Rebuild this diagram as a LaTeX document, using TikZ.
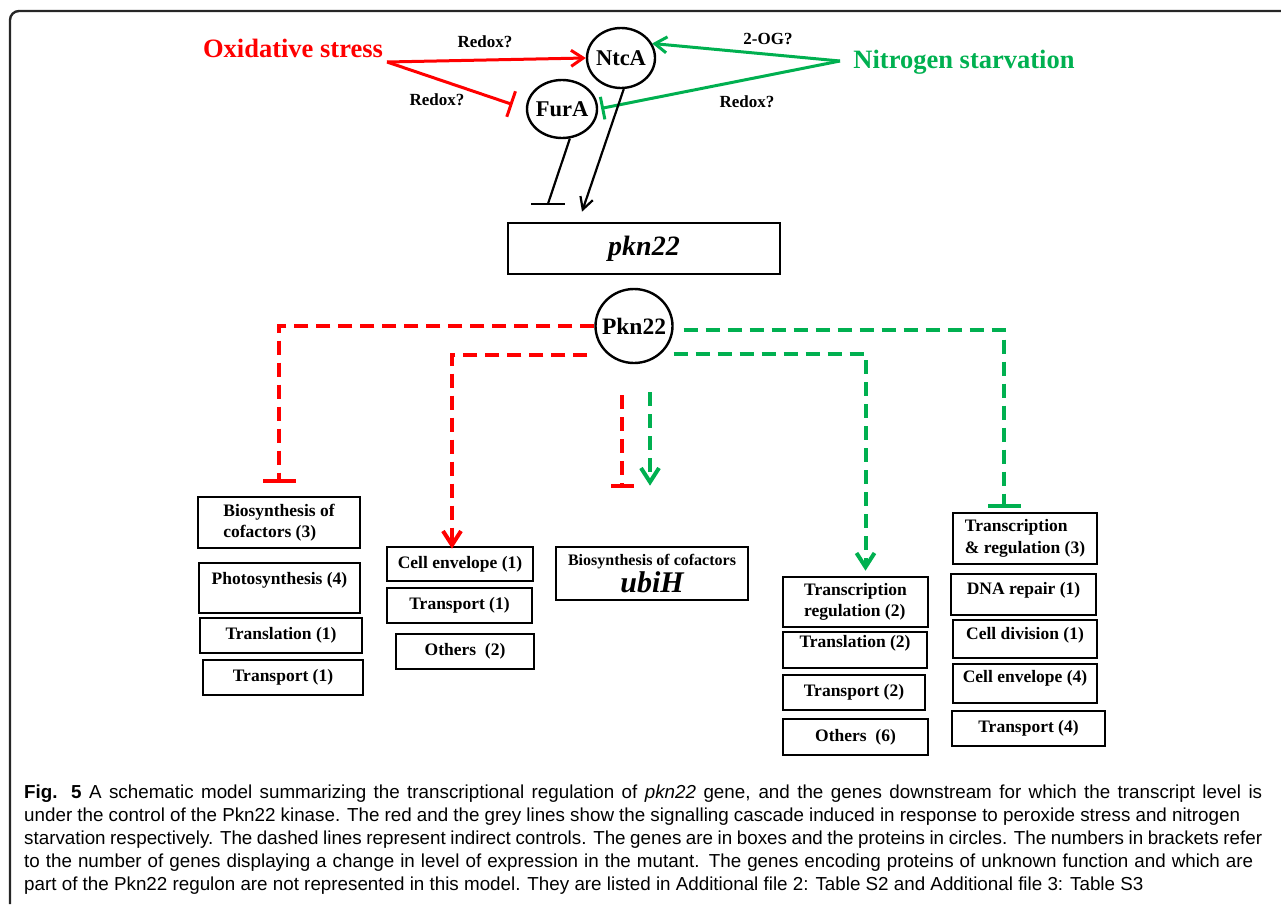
\documentclass[tikz,border=0pt]{standalone}
\usepackage{fontspec}
\setmainfont{Liberation Serif}
\newfontfamily\capfont{Liberation Sans}
\usetikzlibrary{arrows.meta,shapes.geometric,calc}

\definecolor{oxred}{RGB}{255,0,0}
\definecolor{nitgreen}{RGB}{0,176,80}

\begin{document}
\begin{tikzpicture}[x=1pt,y=-1pt]

      \useasboundingbox (0,0) rectangle (1281,904);
      \draw[line width=2.4pt,black!85,rounded corners=9pt] (1281,11) -- (10,11) -- (10,904);

      % signals
      \begin{scope}[every node/.style={font=\bfseries\fontsize{26.5}{30}\selectfont}]
        \node[text=oxred] (ox) at (293,48) {Oxidative stress};
        \node[text=nitgreen] (nit) at (964,62) {Nitrogen starvation};
      \end{scope}
      \coordinate (oxs) at (387,62);
      \coordinate (nts) at (840,61);

      % proteins
      \begin{scope}[every node/.style={ellipse,draw,line width=2.4pt,inner sep=0pt,font=\bfseries\fontsize{22.5}{24}\selectfont}]
        \node[minimum width=68pt,minimum height=60pt] (ntca) at (621,58) {\makebox[0pt]{NtcA}};
        \node[minimum width=70pt,minimum height=58pt] (fura) at (562,109) {\makebox[0pt]{FurA}};
        \node[minimum width=77pt,minimum height=74pt,font=\bfseries\fontsize{23.5}{25}\selectfont] (pkn) at (634,326) {\makebox[0pt]{Pkn22}};
      \end{scope}

      % genes
      \begin{scope}[every node/.style={draw,line width=2.6pt,inner sep=0pt,align=left,font=\bfseries\fontsize{17.5}{21.5}\selectfont}]
        \node[minimum width=272pt,minimum height=51pt,font=\bfseries\itshape\fontsize{28}{30}\selectfont] (pkn22) at (644,248.5) {pkn22};

        \node[minimum width=162pt,minimum height=51pt] (bio) at (279,522.5) {Biosynthesis of\\cofactors (3)};
        \node[minimum width=161pt,minimum height=50pt,text depth=20pt] (photo) at (279.5,588) {Photosynthesis (4)};
        \node[minimum width=162pt,minimum height=35pt] (transl1) at (281,635.5) {Translation (1)};
        \node[minimum width=160pt,minimum height=35pt] (transp1) at (283,677.5) {Transport (1)};

        \node[minimum width=146pt,minimum height=34pt] (cenv1) at (460,564) {Cell envelope (1)};
        \node[minimum width=145pt,minimum height=35pt] (transp1b) at (459.5,605.5) {Transport (1)};
        \node[minimum width=138pt,minimum height=35pt] (others2) at (465,651.5) {Others~~(2)};

        \node[minimum width=192pt,minimum height=53pt,align=center] (ubih) at (652,573.5)
          {\fontsize{16}{17}\selectfont Biosynthesis of cofactors\\[2pt]\fontsize{30}{30}\selectfont\itshape ubiH};

        \node[minimum width=145pt,minimum height=50pt] (treg2) at (855.5,602) {Transcription\\regulation (2)};
        \node[minimum width=144pt,minimum height=36pt,text depth=18pt] (transl2) at (855,650) {Translation (2)};
        \node[minimum width=142pt,minimum height=35pt] (transp2) at (854,692.5) {Transport (2)};
        \node[minimum width=145pt,minimum height=36pt] (others6) at (855.5,737) {Others~~(6)};

        \node[minimum width=144pt,minimum height=51pt] (treg3) at (1025,538.5) {Transcription\\\& regulation (3)};
        \node[minimum width=145pt,minimum height=41pt,text depth=13pt] (dna) at (1023.5,594.5) {DNA repair (1)};
        \node[minimum width=144pt,minimum height=38pt,text depth=12pt] (cdiv) at (1025,639) {Cell division (1)};
        \node[minimum width=144pt,minimum height=39pt,text depth=15pt] (cenv4) at (1025,683.5) {Cell envelope (4)};
        \node[minimum width=153pt,minimum height=35pt] (transp4) at (1028.5,728.5) {Transport (4)};
      \end{scope}

      % direct controls
      \begin{scope}[every edge/.style={draw,line width=3pt}]
        \path (oxs) edge[oxred,-{Straight Barb[length=12pt,width=16pt]}] (ntca.west);
        \path (oxs) edge[oxred,-{Bar[width=27pt]},shorten >=14pt] (fura.west);
        \path (nts) edge[nitgreen,-{Straight Barb[length=12pt,width=16pt]}] (ntca.25);
        \path (nts) edge[nitgreen,-{Bar[width=23pt]},shorten >=3pt] (fura.east);
      \end{scope}

      \begin{scope}[every node/.style={font=\bfseries\fontsize{17}{19}\selectfont}]
        \node (lox1) at (485,42) {Redox?};
        \node (lox2) at (437,100) {Redox?};
        \node (lnit1) at (768,39) {2-OG?};
        \node (lnit2) at (747,102) {Redox?};
      \end{scope}

      \coordinate (fbar) at ($(pkn22.north)+(-96,-18)$);
      \draw[line width=2.2pt] (fura.-75) -- (fbar);
      \draw[line width=2.2pt] ([xshift=-17pt]fbar) -- ([xshift=17pt]fbar);
      \draw[line width=2.2pt,-{Straight Barb[length=12pt,width=13pt]}] (ntca.-85) -- ($(pkn22.north)+(-62,-10)$);

      % indirect controls
      \begin{scope}[line width=4pt,dash pattern=on 14pt off 8pt]
        \draw[oxred,-{Bar[width=33pt]}] (pkn.west) -| ($(bio.north)+(0,-13)$);
        \draw[oxred,-{Straight Barb[length=14pt,width=18pt]}] ($(pkn.west)+(-7,29)$) -| ($(cenv1.north)+(-8,3)$);
        \draw[oxred,-{Bar[width=23pt]}] ($(pkn.south)+(-12,31)$) -- ($(ubih.north)+(-30,-58)$);
        \draw[nitgreen,-{Straight Barb[length=14pt,width=18pt]}] ($(pkn.south)+(16,28)$) -- ($(ubih.north)+(-2,-60)$);
        \draw[nitgreen,-{Bar[width=33pt]}] ($(pkn.east)+(10,4)$) -| ($(treg3.north)+(-21,-4)$);
        \draw[nitgreen,-{Straight Barb[length=14pt,width=18pt]}] ($(pkn.east)+(0,28)$) -| ($(treg2.north)+(10,-5)$);
      \end{scope}

      % caption
      \node[anchor=north west,inner sep=0pt,align=left,font=\capfont\fontsize{18.8}{23}\selectfont] (cap) at (24,785)
        {\makebox[1238pt][s]{\textbf{Fig. 5} A schematic model summarizing the transcriptional regulation of \textit{pkn22} gene, and the genes downstream for which the transcript level is}\\
         \makebox[1216pt][s]{under the control of the Pkn22 kinase. The red and the grey lines show the signalling cascade induced in response to peroxide stress and nitrogen}\\
         \makebox[1238pt][s]{starvation respectively. The dashed lines represent indirect controls. The genes are in boxes and the proteins in circles. The numbers in brackets refer}\\
         \makebox[1229pt][s]{to the number of genes displaying a change in level of expression in the mutant. The genes encoding proteins of unknown function and which are}\\
         part of the Pkn22 regulon are not represented in this model. They are listed in Additional file 2: Table S2 and Additional file 3: Table S3};

    \end{tikzpicture}
\end{document}
